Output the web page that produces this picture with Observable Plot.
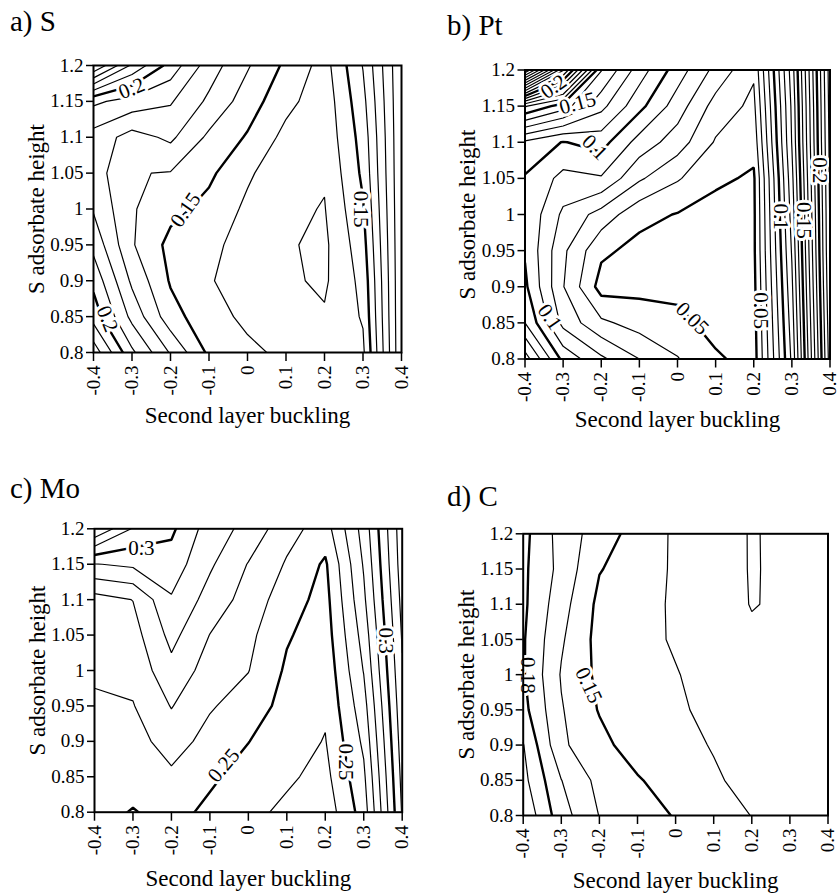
<!DOCTYPE html>
<html><head><meta charset="utf-8">
<script src="https://cdn.jsdelivr.net/npm/d3@7"></script>
<script src="https://cdn.jsdelivr.net/npm/@observablehq/plot@0.6"></script>
<style>
body{margin:0;background:#fff;}
#root{position:relative;width:838px;height:894px;overflow:hidden;font-family:"Liberation Serif","Times New Roman",serif;color:#000;}
.title{position:absolute;font-size:29px;line-height:1;white-space:nowrap;}
.panel{position:absolute;}
</style></head><body><div id="root"></div>
<script>
// ---- data ----
const bucklingTicks = [-0.4, -0.3, -0.2, -0.1, 0, 0.1, 0.2, 0.3, 0.4];
const heightTicks = [0.8, 0.85, 0.9, 0.95, 1, 1.05, 1.1, 1.15, 1.2];
const panelTitles = ["a) S", "b) Pt", "c) Mo", "d) C"];
const xLabel = "Second layer buckling";
const yLabel = "S adsorbate height";

// grid rows: height 1.2 (top) ... 0.8 (bottom); columns: buckling -0.4 ... 0.4
const sGrid = [
  [0.25, 0.218, 0.196, 0.175, 0.161, 0.148, 0.136, 0.1605, 0.199],
  [0.192, 0.186, 0.181, 0.168, 0.155, 0.143, 0.134, 0.157, 0.199],
  [0.176, 0.166, 0.172, 0.158, 0.149, 0.137, 0.133, 0.154, 0.199],
  [0.175, 0.1605, 0.1595, 0.152, 0.1415, 0.1335, 0.131, 0.152, 0.199],
  [0.179, 0.161, 0.153, 0.147, 0.138, 0.132, 0.1295, 0.149, 0.199],
  [0.187, 0.161, 0.147, 0.1425, 0.136, 0.131, 0.128, 0.146, 0.199],
  [0.197, 0.168, 0.149, 0.1405, 0.137, 0.1315, 0.1285, 0.143, 0.199],
  [0.206, 0.177, 0.154, 0.1435, 0.138, 0.134, 0.131, 0.141, 0.199],
  [0.226, 0.192, 0.169, 0.148, 0.142, 0.138, 0.133, 0.138, 0.199]
];
const ptGrid = [
  [0.30, 0.221, 0.1405, 0.115, 0.095, 0.077, 0.0615, 0.135, 0.235],
  [0.161, 0.145, 0.123, 0.103, 0.085, 0.066, 0.0575, 0.132, 0.234],
  [0.108, 0.0995, 0.104, 0.086, 0.075, 0.059, 0.0535, 0.1305, 0.233],
  [0.099, 0.087, 0.089, 0.0715, 0.061, 0.052, 0.0485, 0.127, 0.232],
  [0.0985, 0.078, 0.066, 0.053, 0.0495, 0.046, 0.048, 0.124, 0.231],
  [0.099, 0.072, 0.052, 0.047, 0.046, 0.045, 0.048, 0.121, 0.2305],
  [0.102, 0.0705, 0.046, 0.047, 0.046, 0.045, 0.047, 0.118, 0.229],
  [0.11, 0.077, 0.062, 0.056, 0.054, 0.045, 0.046, 0.115, 0.227],
  [0.135, 0.097, 0.082, 0.07, 0.0605, 0.052, 0.045, 0.112, 0.225]
];
const moGrid = [
  [0.33, 0.309, 0.302, 0.285, 0.277, 0.2635, 0.2555, 0.284, 0.326],
  [0.2895, 0.292, 0.2955, 0.2815, 0.2695, 0.259, 0.2485, 0.281, 0.325],
  [0.266, 0.2702, 0.289, 0.276, 0.266, 0.2545, 0.2465, 0.278, 0.323],
  [0.264, 0.266, 0.283, 0.2698, 0.2625, 0.251, 0.245, 0.274, 0.321],
  [0.262, 0.263, 0.277, 0.2655, 0.2603, 0.2485, 0.243, 0.2705, 0.319],
  [0.258, 0.2595, 0.2705, 0.261, 0.2555, 0.2465, 0.2415, 0.266, 0.317],
  [0.256, 0.256, 0.2645, 0.2565, 0.2502, 0.2445, 0.2395, 0.262, 0.315],
  [0.255, 0.2535, 0.258, 0.2515, 0.2465, 0.2415, 0.237, 0.258, 0.313],
  [0.253, 0.2495, 0.253, 0.248, 0.2425, 0.238, 0.234, 0.2545, 0.311]
];
const cGrid = [
  [0.183, 0.166, 0.1551, 0.146, 0.1385, 0.135, 0.1293, 0.1325, 0.134],
  [0.182, 0.1669, 0.1505, 0.1455, 0.1385, 0.1345, 0.1294, 0.132, 0.133],
  [0.182, 0.164, 0.1475, 0.144, 0.1385, 0.1345, 0.1296, 0.1315, 0.133],
  [0.181, 0.1613, 0.1466, 0.143, 0.139, 0.1345, 0.1315, 0.1325, 0.133],
  [0.181, 0.1592, 0.1477, 0.1435, 0.1405, 0.1365, 0.133, 0.133, 0.1335],
  [0.1832, 0.1608, 0.1493, 0.1455, 0.1415, 0.1375, 0.1335, 0.1335, 0.1335],
  [0.1905, 0.1617, 0.1532, 0.1448, 0.1425, 0.1395, 0.135, 0.1345, 0.134],
  [0.193, 0.1702, 0.157, 0.151, 0.1445, 0.141, 0.1375, 0.136, 0.135],
  [0.198, 0.1742, 0.1597, 0.1535, 0.1495, 0.1445, 0.1398, 0.137, 0.136]
];

// contour levels
const sThin = [0.13, 0.14, 0.16, 0.17, 0.18, 0.19, 0.21, 0.22, 0.23, 0.24];
const sThick = [0.15, 0.2];
const ptThin = [0.06, 0.07, 0.08, 0.09, 0.11, 0.12, 0.13, 0.14, 0.16, 0.17, 0.18, 0.19, 0.21, 0.22, 0.23, 0.24, 0.25, 0.26, 0.27, 0.28, 0.29];
const ptThick = [0.05, 0.1, 0.15, 0.2];
const moThin = [0.24, 0.26, 0.27, 0.28, 0.29, 0.31, 0.32];
const moThick = [0.25, 0.3];
const cThin = [0.13, 0.14, 0.16, 0.17, 0.19];
const cThick = [0.15, 0.18];

// contour labels (buckling, height, text, angle)
const sLabels = [
  {x: -0.301, y: 1.168, text: "0.2", rotate: -22},
  {x: -0.161, y: 0.999, text: "0.15", rotate: -55},
  {x: 0.295, y: 1.0, text: "0.15", rotate: 90},
  {x: -0.364, y: 0.847, text: "0.2", rotate: 68}
];
const ptLabels = [
  {x: -0.325, y: 1.177, text: "0.2", rotate: -35},
  {x: -0.262, y: 1.154, text: "0.15", rotate: -15},
  {x: -0.217, y: 1.093, text: "0.1", rotate: 45},
  {x: -0.335, y: 0.858, text: "0.1", rotate: 55},
  {x: 0.039, y: 0.856, text: "0.05", rotate: 45},
  {x: 0.219, y: 0.867, text: "0.05", rotate: 90},
  {x: 0.272, y: 0.997, text: "0.1", rotate: 90},
  {x: 0.331, y: 0.992, text: "0.15", rotate: 90},
  {x: 0.374, y: 1.061, text: "0.2", rotate: 90}
];
const moLabels = [
  {x: -0.278, y: 1.172, text: "0.3", rotate: 0},
  {x: -0.064, y: 0.866, text: "0.25", rotate: -50},
  {x: 0.358, y: 1.042, text: "0.3", rotate: 90},
  {x: 0.253, y: 0.871, text: "0.25", rotate: 90}
];
const cLabels = [
  {x: -0.388, y: 0.999, text: "0.18", rotate: 90},
  {x: -0.228, y: 0.985, text: "0.15", rotate: 65}
];

// ---- drawing ----
const FONT = "Liberation Serif";
const fmt = d => String(+d.toFixed(2));
const root = document.getElementById("root");

function panel(cfg) {
  const flat = cfg.grid.slice().reverse().flat(); // bottom row first
  const extent = {width: 9, height: 9, x1: -0.45, x2: 0.45, y1: 0.775, y2: 1.225, value: d => d};
  const svg = Plot.plot({
    width: cfg.w, height: cfg.h,
    marginLeft: cfg.ml, marginRight: cfg.mr, marginTop: cfg.mt, marginBottom: cfg.mb,
    style: {fontFamily: FONT, background: "white", color: "black", overflow: "visible"},
    x: {domain: [-0.4, 0.4], axis: null},
    y: {domain: [0.8, 1.2], axis: null},
    marks: [
      Plot.contour(flat, {...extent, thresholds: cfg.thin, fill: "none", stroke: "black", strokeWidth: 1.2, clip: true}),
      Plot.contour(flat, {...extent, thresholds: cfg.thick, fill: "none", stroke: "black", strokeWidth: 2.4, clip: true}),
      Plot.text(cfg.labels, {x: "x", y: "y", text: "text", rotate: "rotate", fontSize: 21, fontFamily: FONT,
        fill: "black", stroke: "white", strokeWidth: 6, paintOrder: "stroke"}),
      Plot.frame({stroke: "black", strokeWidth: 2}),
      Plot.axisY(heightTicks, {tickSize: 7, tickPadding: 3, fontSize: 19, tickFormat: fmt, label: null, strokeWidth: 1.5}),
      Plot.axisX(bucklingTicks, {tickSize: 9, tickPadding: 4, tickRotate: -90, fontSize: 19, tickFormat: fmt, label: null, strokeWidth: 1.5}),
      Plot.text([xLabel], {frameAnchor: "bottom", dy: cfg.xdy, fontSize: 23, fontFamily: FONT, fill: "black"}),
      Plot.text([yLabel], {frameAnchor: "left", dx: -57, rotate: -90, textAnchor: "middle", fontSize: 23, fontFamily: FONT, fill: "black"})
    ]
  });
  svg.classList.add("panel");
  svg.style.left = cfg.left + "px";
  svg.style.top = cfg.top + "px";
  root.appendChild(svg);
  const t = document.createElement("div");
  t.className = "title";
  t.textContent = cfg.title;
  t.style.left = cfg.tx + "px";
  t.style.top = cfg.ty + "px";
  root.appendChild(t);
}

panel({grid: sGrid, thin: sThin, thick: sThick, labels: sLabels, title: panelTitles[0],
  left: 0, top: 0, w: 430, h: 445, ml: 93, mr: 29, mt: 65, mb: 93, xdy: 70, tx: 10, ty: 7});
panel({grid: ptGrid, thin: ptThin, thick: ptThick, labels: ptLabels, title: panelTitles[1],
  left: 430, top: 0, w: 408, h: 445, ml: 94.5, mr: 8.5, mt: 69.5, mb: 86.5, xdy: 68, tx: 447, ty: 11});
panel({grid: moGrid, thin: moThin, thick: moThick, labels: moLabels, title: panelTitles[2],
  left: 0, top: 447, w: 430, h: 447, ml: 94, mr: 28.3, mt: 81.3, mb: 82.3, xdy: 74, tx: 10, ty: 474});
panel({grid: cGrid, thin: cThin, thick: cThick, labels: cLabels, title: panelTitles[3],
  left: 430, top: 447, w: 408, h: 447, ml: 92.7, mr: 10.5, mt: 86.3, mb: 79, xdy: 72, tx: 447, ty: 482});
</script>
</body></html>
